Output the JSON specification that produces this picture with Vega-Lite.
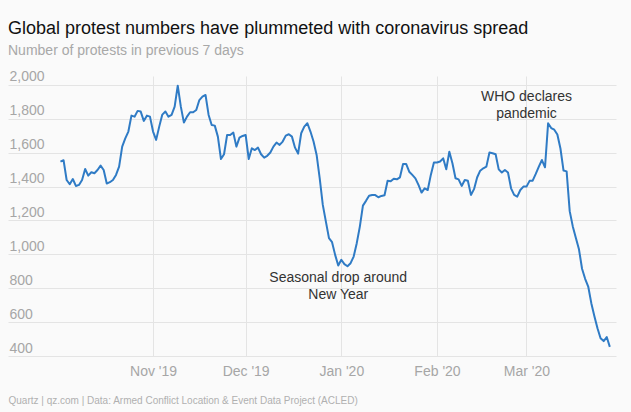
{
  "$schema": "https://vega.github.io/schema/vega-lite/v6.json",
  "width": 608,
  "height": 280,
  "autosize": {"type": "none"},
  "padding": {"left": 8, "top": 76, "right": 15, "bottom": 56},
  "background": "#fafafa",
  "title": {
    "text": "Global protest numbers have plummeted with coronavirus spread",
    "subtitle": "Number of protests in previous 7 days",
    "anchor": "start",
    "frame": "group",
    "font": "Liberation Sans",
    "fontSize": 18,
    "fontWeight": "normal",
    "color": "#111111",
    "subtitleFont": "Liberation Sans",
    "subtitleFontSize": 14,
    "subtitleColor": "#a8a8a8",
    "subtitlePadding": 6,
    "offset": 12
  },
  "config": {"view": {"stroke": null}},
  "datasets": {
    "protests": [
      {"date": "2019-10-02", "protests": 1547}, {"date": "2019-10-03", "protests": 1556}, {"date": "2019-10-04", "protests": 1439}, {"date": "2019-10-05", "protests": 1414}, {"date": "2019-10-06", "protests": 1445}, {"date": "2019-10-07", "protests": 1404}, {"date": "2019-10-08", "protests": 1410}, {"date": "2019-10-09", "protests": 1439}, {"date": "2019-10-10", "protests": 1504}, {"date": "2019-10-11", "protests": 1465}, {"date": "2019-10-12", "protests": 1485}, {"date": "2019-10-13", "protests": 1479}, {"date": "2019-10-14", "protests": 1498}, {"date": "2019-10-15", "protests": 1524}, {"date": "2019-10-16", "protests": 1498}, {"date": "2019-10-17", "protests": 1418}, {"date": "2019-10-18", "protests": 1426}, {"date": "2019-10-19", "protests": 1439}, {"date": "2019-10-20", "protests": 1469}, {"date": "2019-10-21", "protests": 1518}, {"date": "2019-10-22", "protests": 1636}, {"date": "2019-10-23", "protests": 1685}, {"date": "2019-10-24", "protests": 1725}, {"date": "2019-10-25", "protests": 1819}, {"date": "2019-10-26", "protests": 1813}, {"date": "2019-10-27", "protests": 1847}, {"date": "2019-10-28", "protests": 1843}, {"date": "2019-10-29", "protests": 1788}, {"date": "2019-10-30", "protests": 1819}, {"date": "2019-10-31", "protests": 1813},
      {"date": "2019-11-01", "protests": 1725}, {"date": "2019-11-02", "protests": 1676}, {"date": "2019-11-03", "protests": 1754}, {"date": "2019-11-04", "protests": 1825}, {"date": "2019-11-05", "protests": 1843}, {"date": "2019-11-06", "protests": 1813}, {"date": "2019-11-07", "protests": 1823}, {"date": "2019-11-08", "protests": 1872}, {"date": "2019-11-09", "protests": 1996}, {"date": "2019-11-10", "protests": 1872}, {"date": "2019-11-11", "protests": 1778}, {"date": "2019-11-12", "protests": 1813}, {"date": "2019-11-13", "protests": 1839}, {"date": "2019-11-14", "protests": 1839}, {"date": "2019-11-15", "protests": 1852}, {"date": "2019-11-16", "protests": 1911}, {"date": "2019-11-17", "protests": 1931}, {"date": "2019-11-18", "protests": 1941}, {"date": "2019-11-19", "protests": 1823}, {"date": "2019-11-20", "protests": 1764}, {"date": "2019-11-21", "protests": 1760}, {"date": "2019-11-22", "protests": 1695}, {"date": "2019-11-23", "protests": 1563}, {"date": "2019-11-24", "protests": 1591}, {"date": "2019-11-25", "protests": 1705}, {"date": "2019-11-26", "protests": 1705}, {"date": "2019-11-27", "protests": 1719}, {"date": "2019-11-28", "protests": 1636}, {"date": "2019-11-29", "protests": 1689}, {"date": "2019-11-30", "protests": 1699},
      {"date": "2019-12-01", "protests": 1705}, {"date": "2019-12-02", "protests": 1563}, {"date": "2019-12-03", "protests": 1626}, {"date": "2019-12-04", "protests": 1616}, {"date": "2019-12-05", "protests": 1630}, {"date": "2019-12-06", "protests": 1591}, {"date": "2019-12-07", "protests": 1571}, {"date": "2019-12-08", "protests": 1582}, {"date": "2019-12-09", "protests": 1601}, {"date": "2019-12-10", "protests": 1636}, {"date": "2019-12-11", "protests": 1660}, {"date": "2019-12-12", "protests": 1646}, {"date": "2019-12-13", "protests": 1666}, {"date": "2019-12-14", "protests": 1701}, {"date": "2019-12-15", "protests": 1709}, {"date": "2019-12-16", "protests": 1695}, {"date": "2019-12-17", "protests": 1630}, {"date": "2019-12-18", "protests": 1595}, {"date": "2019-12-19", "protests": 1715}, {"date": "2019-12-20", "protests": 1754}, {"date": "2019-12-21", "protests": 1774}, {"date": "2019-12-22", "protests": 1725}, {"date": "2019-12-23", "protests": 1666}, {"date": "2019-12-24", "protests": 1587}, {"date": "2019-12-25", "protests": 1449}, {"date": "2019-12-26", "protests": 1292}, {"date": "2019-12-27", "protests": 1193}, {"date": "2019-12-28", "protests": 1096}, {"date": "2019-12-29", "protests": 1072}, {"date": "2019-12-30", "protests": 997}, {"date": "2019-12-31", "protests": 934},
      {"date": "2020-01-01", "protests": 968}, {"date": "2020-01-02", "protests": 942}, {"date": "2020-01-03", "protests": 930}, {"date": "2020-01-04", "protests": 948}, {"date": "2020-01-05", "protests": 987}, {"date": "2020-01-06", "protests": 1066}, {"date": "2020-01-07", "protests": 1164}, {"date": "2020-01-08", "protests": 1288}, {"date": "2020-01-09", "protests": 1316}, {"date": "2020-01-10", "protests": 1346}, {"date": "2020-01-11", "protests": 1350}, {"date": "2020-01-12", "protests": 1350}, {"date": "2020-01-13", "protests": 1337}, {"date": "2020-01-14", "protests": 1345}, {"date": "2020-01-15", "protests": 1349}, {"date": "2020-01-16", "protests": 1435}, {"date": "2020-01-17", "protests": 1432}, {"date": "2020-01-18", "protests": 1447}, {"date": "2020-01-19", "protests": 1443}, {"date": "2020-01-20", "protests": 1455}, {"date": "2020-01-21", "protests": 1534}, {"date": "2020-01-22", "protests": 1534}, {"date": "2020-01-23", "protests": 1488}, {"date": "2020-01-24", "protests": 1469}, {"date": "2020-01-25", "protests": 1449}, {"date": "2020-01-26", "protests": 1410}, {"date": "2020-01-27", "protests": 1365}, {"date": "2020-01-28", "protests": 1390}, {"date": "2020-01-29", "protests": 1380}, {"date": "2020-01-30", "protests": 1469}, {"date": "2020-01-31", "protests": 1542},
      {"date": "2020-02-01", "protests": 1542}, {"date": "2020-02-02", "protests": 1548}, {"date": "2020-02-03", "protests": 1567}, {"date": "2020-02-04", "protests": 1502}, {"date": "2020-02-05", "protests": 1606}, {"date": "2020-02-06", "protests": 1538}, {"date": "2020-02-07", "protests": 1449}, {"date": "2020-02-08", "protests": 1443}, {"date": "2020-02-09", "protests": 1404}, {"date": "2020-02-10", "protests": 1439}, {"date": "2020-02-11", "protests": 1435}, {"date": "2020-02-12", "protests": 1351}, {"date": "2020-02-13", "protests": 1385}, {"date": "2020-02-14", "protests": 1454}, {"date": "2020-02-15", "protests": 1494}, {"date": "2020-02-16", "protests": 1508}, {"date": "2020-02-17", "protests": 1518}, {"date": "2020-02-18", "protests": 1601}, {"date": "2020-02-19", "protests": 1597}, {"date": "2020-02-20", "protests": 1591}, {"date": "2020-02-21", "protests": 1502}, {"date": "2020-02-22", "protests": 1483}, {"date": "2020-02-23", "protests": 1498}, {"date": "2020-02-24", "protests": 1483}, {"date": "2020-02-25", "protests": 1390}, {"date": "2020-02-26", "protests": 1351}, {"date": "2020-02-27", "protests": 1341}, {"date": "2020-02-28", "protests": 1380}, {"date": "2020-02-29", "protests": 1400},
      {"date": "2020-03-01", "protests": 1400}, {"date": "2020-03-02", "protests": 1434}, {"date": "2020-03-03", "protests": 1435}, {"date": "2020-03-04", "protests": 1475}, {"date": "2020-03-05", "protests": 1518}, {"date": "2020-03-06", "protests": 1557}, {"date": "2020-03-07", "protests": 1514}, {"date": "2020-03-08", "protests": 1774}, {"date": "2020-03-09", "protests": 1746}, {"date": "2020-03-10", "protests": 1736}, {"date": "2020-03-11", "protests": 1708}, {"date": "2020-03-12", "protests": 1625}, {"date": "2020-03-13", "protests": 1495}, {"date": "2020-03-14", "protests": 1490}, {"date": "2020-03-15", "protests": 1255}, {"date": "2020-03-16", "protests": 1165}, {"date": "2020-03-17", "protests": 1096}, {"date": "2020-03-18", "protests": 1030}, {"date": "2020-03-19", "protests": 915}, {"date": "2020-03-20", "protests": 856}, {"date": "2020-03-21", "protests": 810}, {"date": "2020-03-22", "protests": 712}, {"date": "2020-03-23", "protests": 635}, {"date": "2020-03-24", "protests": 564}, {"date": "2020-03-25", "protests": 505}, {"date": "2020-03-26", "protests": 488}, {"date": "2020-03-27", "protests": 512}, {"date": "2020-03-28", "protests": 454}
    ],
    "notes": [
      {"date": "2020-03-01", "protests": 1929, "label": "WHO declares\npandemic"},
      {"date": "2019-12-31", "protests": 859, "label": "Seasonal drop around\nNew Year"}
    ]
  },
  "encoding": {
    "x": {
      "field": "date",
      "type": "temporal",
      "scale": {
        "type": "utc",
        "domain": [
          {"year": 2019, "month": 9, "date": 15, "utc": true},
          {"year": 2020, "month": 3, "date": 30, "utc": true}
        ]
      },
      "axis": {
        "values": [
          {"year": 2019, "month": 11, "date": 1, "utc": true},
          {"year": 2019, "month": 12, "date": 1, "utc": true},
          {"year": 2020, "month": 1, "date": 1, "utc": true},
          {"year": 2020, "month": 2, "date": 1, "utc": true},
          {"year": 2020, "month": 3, "date": 1, "utc": true}
        ],
        "format": "%b '%y",
        "domain": false,
        "ticks": false,
        "tickSize": 0,
        "grid": true,
        "gridColor": "#e4e4e4",
        "gridWidth": 1,
        "labelFont": "Liberation Sans",
        "labelFontSize": 14,
        "labelColor": "#a6a6a6",
        "labelBaseline": "alphabetic",
        "labelPadding": 19,
        "labelFlush": false,
        "labelOverlap": false,
        "title": "Quartz | qz.com | Data: Armed Conflict Location & Event Data Project (ACLED)",
        "titleFont": "Liberation Sans",
        "titleFontSize": 10,
        "titleFontWeight": "normal",
        "titleColor": "#b0b0b0",
        "titleAnchor": "start",
        "titleAlign": "left",
        "titlePadding": 17
      }
    },
    "y": {
      "field": "protests",
      "type": "quantitative",
      "scale": {"domain": [400, 2053], "nice": false, "zero": false},
      "axis": {
        "values": [400, 600, 800, 1000, 1200, 1400, 1600, 1800, 2000],
        "format": ",.0f",
        "title": null,
        "domain": false,
        "ticks": false,
        "tickSize": 0,
        "grid": true,
        "gridColor": "#e4e4e4",
        "gridWidth": 1,
        "labelAlign": "left",
        "labelBaseline": "alphabetic",
        "labelPadding": -1,
        "labelOffset": -4,
        "labelFont": "Liberation Sans",
        "labelFontSize": 14,
        "labelColor": "#a6a6a6",
        "labelFlush": false,
        "labelOverlap": false
      }
    }
  },
  "layer": [
    {
      "data": {"name": "protests"},
      "mark": {"type": "line", "color": "#2f7bc5", "strokeWidth": 2, "strokeJoin": "round"}
    },
    {
      "data": {"name": "notes"},
      "mark": {"type": "text", "font": "Liberation Sans", "fontSize": 14, "color": "#333333", "align": "center", "baseline": "middle", "lineBreak": "\n", "lineHeight": 17},
      "encoding": {
        "text": {"field": "label"}
      }
    }
  ]
}
